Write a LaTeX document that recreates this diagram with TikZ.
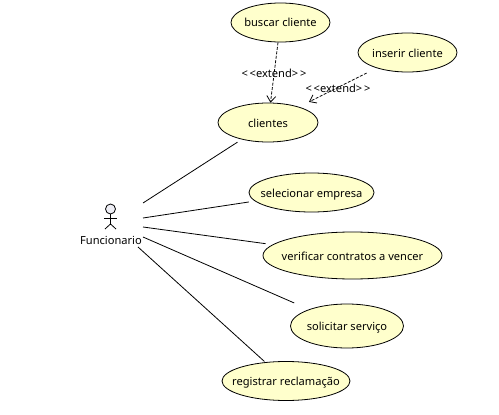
\documentclass[tikz,border=0pt]{standalone}
\usepackage{fontspec}
\setmainfont{Noto Sans}
\usetikzlibrary{arrows.meta,shapes}
\definecolor{usecasefill}{RGB}{255,255,204}
\definecolor{actorfill}{RGB}{238,238,245}
\newcommand{\uctext}[1]{\makebox[0pt]{\raisebox{-4.5pt}[0pt][0pt]{#1}}}

\begin{document}
\begin{tikzpicture}[x=1pt,y=-1pt,line width=0.8pt,
    usecase/.style={draw, ellipse, fill=usecasefill, inner sep=0pt, font=\fontsize{11.1}{13}\selectfont},
    extendlink/.style={->, dash pattern=on 3pt off 1.5pt, >={Straight Barb[length=6pt,width=9pt]}},
    stereo/.style={font=\fontsize{11.1}{13}\selectfont, inner sep=0pt}]
            \useasboundingbox (0,0) rectangle (499,415);

            % Use cases
            \node[usecase, minimum width=99pt, minimum height=39pt] (buscar) at (280.5,22.5) {\uctext{buscar cliente}};
            \node[usecase, minimum width=99pt, minimum height=39pt] (inserir) at (407.5,52.5) {\uctext{inserir cliente}};
            \node[usecase, minimum width=100pt, minimum height=39pt] (clientes) at (268,122.5) {\uctext{clientes}};
            \node[usecase, minimum width=125pt, minimum height=39pt] (selecionar) at (311.5,192.5) {\uctext{selecionar empresa}};
            \node[usecase, minimum width=179pt, minimum height=47pt] (verificar) at (352.5,255.5) {\uctext{verificar contratos a vencer}};
            \node[usecase, minimum width=113pt, minimum height=44pt] (solicitar) at (347,326) {\uctext{solicitar serviço}};
            \node[usecase, minimum width=128pt, minimum height=39pt] (registrar) at (286,381) {\uctext{registrar reclamação}};

            % Actor
            \node[draw, circle, fill=actorfill, minimum size=10pt, inner sep=0pt] (head) at (110.5,209) {};
            \coordinate (hip) at (110.5,224);
            \draw (head) -- (hip);
            \coordinate (arml) at (104,218);
            \coordinate (armr) at (117,218);
            \coordinate (legl) at (105,229);
            \coordinate (legr) at (116,229);
            \draw (arml) -- (armr);
            \draw (legl) -- (hip) -- (legr);
            \node[font=\fontsize{11.1}{13}\selectfont, inner sep=0pt] (funcionario) at (111,240) {Funcionario};

            % Associations
            \coordinate (a1) at (143,203);
            \coordinate (a2) at (143,218);
            \coordinate (a3) at (143,227);
            \coordinate (a4) at (143,237);
            \coordinate (a5) at (138,247);
            \draw[shorten >=5pt] (a1) -- (clientes);
            \draw[shorten >=6pt] (a2) -- (selecionar);
            \draw[shorten >=7pt] (a3) -- (verificar);
            \draw[shorten >=16pt] (a4) -- (solicitar);
            \draw[shorten >=1pt] (a5) -- (registrar);

            % Extends
            \draw[extendlink] (buscar) -- (clientes);
            \draw[extendlink, shorten <=11pt, shorten >=11pt] (inserir) -- (clientes);
            \node[stereo] (ext1) at (274,73) {<\,<extend>\,>};
            \node[stereo] (ext2) at (338,88) {<\,<extend>\,>};
\end{tikzpicture}
\end{document}
